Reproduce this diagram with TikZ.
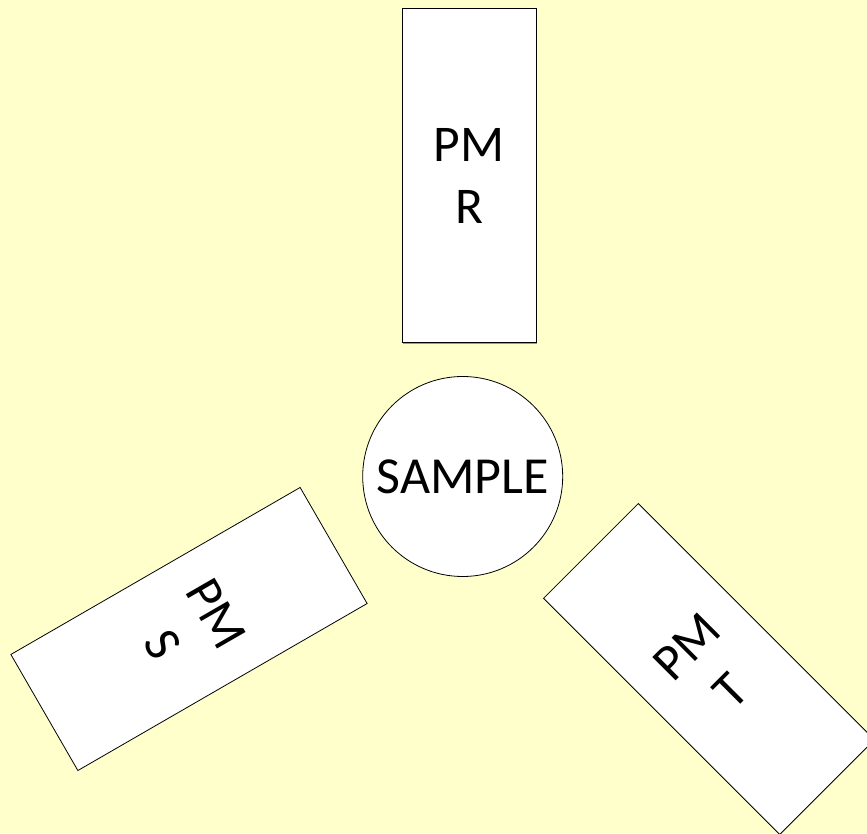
\documentclass[tikz,border=0pt]{standalone}
\usepackage{fontspec}
\setmainfont{Carlito}
\usetikzlibrary{shadows}
\definecolor{bgyellow}{HTML}{FFFFCC}
\tikzset{
  pmbox/.style={draw=black, fill=white, line width=0.8pt, minimum width=134pt, minimum height=334pt,
    inner sep=0pt, align=center, font=\fontsize{51.5}{62}\selectfont},
  samplecirc/.style={draw=black, fill=white, line width=0.8pt, circle, minimum size=200pt, inner sep=0pt,
    font=\fontsize{52}{62}\selectfont}
}
\begin{document}
\begin{tikzpicture}[x=1pt,y=1pt]
  \fill[bgyellow] (0,0) rectangle (867,833);
  \useasboundingbox (0,0) rectangle (867,833);
  \clip (0,0) rectangle (867,833);
  \node[pmbox, line width=1pt, drop shadow={shadow xshift=1.2pt, shadow yshift=-1.2pt, fill=gray!80, opacity=1}] (pmr) at (469,657.5) {PM\\R};
  \node[samplecirc] (sample) at (462.7,356.5) {SAMPLE};
  \node[pmbox, rotate=-60] (pms) at (189,204) {PM\\S};
  \node[pmbox, rotate=45] (pmt) at (709,164) {PM\\T};
\end{tikzpicture}
\end{document}
